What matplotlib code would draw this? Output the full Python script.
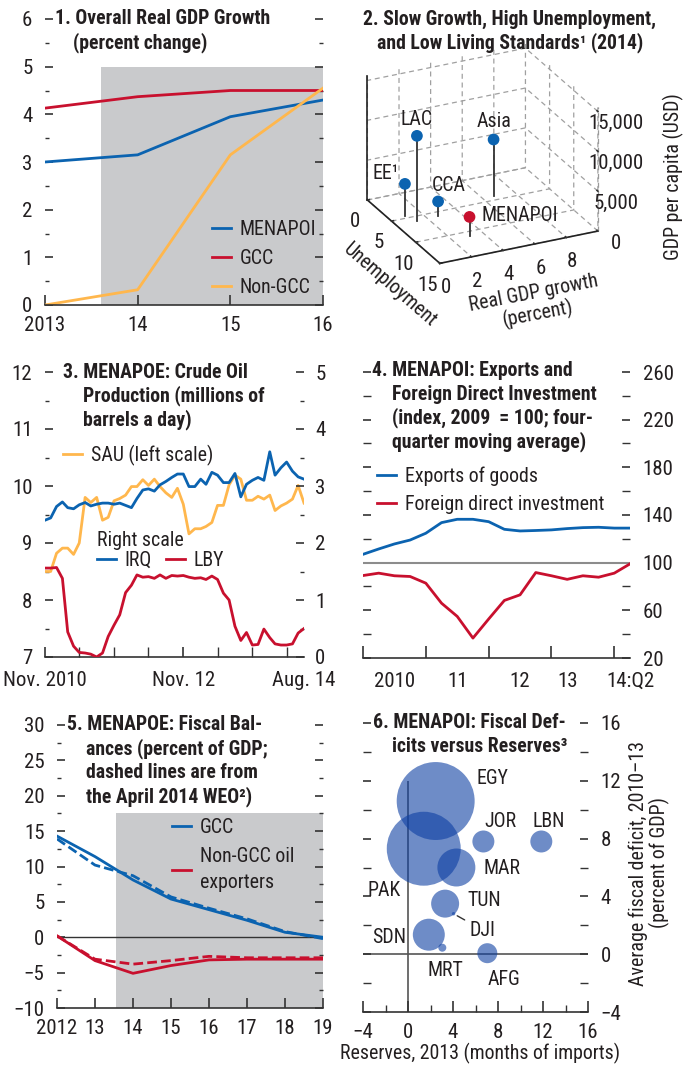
import numpy as np
import pandas as pd
import matplotlib
matplotlib.use('Agg')
import matplotlib.pyplot as plt
from matplotlib import font_manager as fm
from matplotlib.ticker import MultipleLocator, FixedLocator, NullFormatter, FuncFormatter
from mpl_toolkits.mplot3d import proj3d

# ---------------- data ----------------
# Panel 1: overall real GDP growth (percent change)
years1 = [2013, 2014, 2015, 2016]
gdp_menapoi = [3.0, 3.15, 3.95, 4.3]
gdp_gcc = [4.13, 4.37, 4.5, 4.5]
gdp_nongcc = [0.0, 0.32, 3.15, 4.55]
proj_start1 = 2013.6

# Panel 2: growth, unemployment, GDP per capita (2014)
regions2 = ['EE¹', 'LAC', 'CCA', 'Asia', 'MENAPOI']
growth2 = [1.0, 1.3, 2.7, 6.7, 3.1]
unemp2 = [4.5, 6.0, 5.8, 4.2, 11.0]
gdppc2 = [4000, 10700, 1800, 7100, 2450]

# Panel 3: crude oil production, monthly Nov 2010 - Aug 2014
sau = [8.50, 8.50, 8.82, 8.91, 8.91, 8.80, 9.00, 9.80, 9.71, 9.80,
       9.40, 9.45, 9.74, 9.78, 9.84, 9.99, 9.99, 10.11, 10.01, 10.12,
       9.99, 9.88, 9.80, 9.96, 9.68, 9.16, 9.25, 9.25, 9.29, 9.36,
       9.66, 9.66, 10.02, 10.19, 10.12, 9.75, 9.75, 9.82, 9.77, 9.84,
       9.57, 9.65, 9.70, 9.77, 10.01, 9.70]
irq = [2.40, 2.44, 2.64, 2.72, 2.62, 2.60, 2.67, 2.71, 2.65, 2.68,
       2.70, 2.70, 2.68, 2.70, 2.66, 2.62, 2.78, 2.93, 2.95, 2.91,
       3.02, 3.08, 3.15, 3.21, 3.21, 2.99, 2.99, 3.12, 3.03, 3.24,
       3.19, 3.06, 3.06, 3.22, 2.81, 3.03, 3.10, 3.15, 3.10, 3.60,
       3.19, 3.32, 3.42, 3.26, 3.16, 3.12]
lby = [1.56, 1.56, 1.57, 1.38, 0.44, 0.19, 0.08, 0.07, 0.05, 0.00,
       0.07, 0.36, 0.56, 0.74, 1.13, 1.26, 1.44, 1.40, 1.41, 1.38,
       1.44, 1.38, 1.43, 1.42, 1.43, 1.40, 1.38, 1.39, 1.36, 1.42,
       1.36, 1.12, 1.00, 0.54, 0.29, 0.43, 0.21, 0.22, 0.49, 0.34,
       0.23, 0.21, 0.21, 0.23, 0.42, 0.50]
months3 = pd.date_range('2010-11-01', periods=len(sau), freq='MS')

# Panel 4: exports and FDI (index, 2009 = 100), quarterly 2010Q1 - 2014Q2
quarters4 = pd.period_range('2010Q1', '2014Q2', freq='Q')
exports4 = [107, 111.5, 115.7, 119, 124.7, 133.6, 136.4, 136.4, 134.4, 128,
            126.6, 127, 127.5, 128.6, 129.4, 129.7, 129, 129]
fdi4 = [89.2, 91.2, 89, 88.4, 82.8, 66, 54.9, 36.7, 52.7, 68.3,
        73, 91.7, 89, 86, 89, 87.8, 91.2, 99]
xlabels4 = ['2010', '11', '12', '13', '14:Q2']

# Panel 5: fiscal balances (percent of GDP)
years5 = [2012, 2013, 2014, 2015, 2016, 2017, 2018, 2019]
gcc5 = [14.3, 11.4, 8.1, 5.4, 3.9, 2.4, 0.7, 0.0]
gcc5_weo = [13.9, 10.2, 8.7, 5.7, 4.1, 2.6, 0.8, -0.2]
ngo5 = [0.2, -3.3, -5.1, -4.0, -3.2, -3.1, -3.1, -3.1]
ngo5_weo = [0.2, -3.1, -3.8, -3.3, -2.7, -2.9, -2.9, -2.9]
proj_start5 = 2013.55

# Panel 6: fiscal deficits versus reserves
countries6 = ['EGY', 'PAK', 'MAR', 'JOR', 'LBN', 'TUN', 'DJI', 'SDN', 'MRT', 'AFG']
reserves6 = [2.46, 1.4, 4.3, 6.7, 11.85, 3.3, 4.05, 1.85, 3.05, 7.05]
deficit6 = [10.6, 7.3, 6.0, 7.8, 7.8, 3.5, 2.8, 1.35, 0.45, 0.07]
bubble6 = [1521, 1369, 361, 121, 121, 196, 3, 256, 16, 100]

# ---------------- fonts / style ----------------
names = {f.name for f in fm.fontManager.ttflist}
FONT = next((n for n in ['Liberation Sans Narrow', 'Roboto Condensed', 'Open Sans Condensed',
                         'Arial Narrow', 'Liberation Sans'] if n in names), 'DejaVu Sans')
FS = 15      # tick labels
LFS = 14.3   # legends / annotations / axis labels
TFS = 14.2   # bold titles
TXT = '#231f20'
BLUE = '#0b63b0'
RED = '#c8102e'
YEL = '#ffb74d'
SHADE = '#c9cacc'
LW = 2.0

plt.rcParams.update({
    'font.family': [FONT, 'DejaVu Sans'], 'font.size': LFS, 'text.color': TXT,
    'xtick.color': '#333333', 'ytick.color': '#333333',
    'xtick.labelcolor': TXT, 'ytick.labelcolor': TXT,
    'axes.linewidth': 1.2, 'axes.edgecolor': '#333333',
    'xtick.major.width': 1.2, 'ytick.major.width': 1.2,
    'xtick.minor.width': 1.0, 'ytick.minor.width': 1.0,
    'xtick.labelsize': FS, 'ytick.labelsize': FS,
    'legend.fontsize': LFS,
})

W, H = 693, 1065
fig = plt.figure(figsize=(W / 100, H / 100), dpi=100)


def rect(l, t, r, b):
    return [l / W, 1 - b / H, (r - l) / W, (b - t) / H]


def ftext(x, y, s, **kw):
    kw.setdefault('va', 'center')
    return fig.text(x / W, 1 - y / H, s, **kw)


def base(ax):
    ax.patch.set_alpha(0)
    for s in ('top', 'left', 'right'):
        ax.spines[s].set_visible(False)
    ax.tick_params(which='both', direction='in')
    ax.tick_params(which='major', length=6)
    ax.tick_params(which='minor', length=3)


def title(lines, x0, x1, y0, dy=24):
    for i, s in enumerate(lines):
        ftext(x0 if i == 0 else x1, y0 + i * dy, s, fontweight='bold', fontsize=TFS, ha='left')


def legend_at(ax, x, y, **kw):
    opts = dict(loc='upper left', bbox_to_anchor=(x / W, 1 - y / H), bbox_transform=fig.transFigure,
                frameon=False, handlelength=0.95, handletextpad=0.45, labelspacing=0.5,
                borderpad=0, borderaxespad=0)
    opts.update(kw)
    return ax.legend(**opts)


# ---------------- Panel 1 ----------------
ax1 = fig.add_axes(rect(45, 19, 323, 305))
base(ax1)
ax1.set_xlim(2013, 2016)
ax1.set_ylim(0, 6)
ax1.axvspan(proj_start1, 2016, ymax=5 / 6, color=SHADE, lw=0)
ax1.plot(years1, gdp_menapoi, color=BLUE, lw=LW, label='MENAPOI')
ax1.plot(years1, gdp_gcc, color=RED, lw=LW, label='GCC')
ax1.plot(years1, gdp_nongcc, color=YEL, lw=LW, label='Non-GCC')
ax1.yaxis.set_major_locator(MultipleLocator(1))
ax1.yaxis.set_minor_locator(MultipleLocator(0.5))
ax1.tick_params(axis='y', which='both', left=True, right=True, pad=9)
ax1.set_xticks(years1, ['2013', '14', '15', '16'])
ax1.tick_params(axis='x', length=7, pad=8)
legend_at(ax1, 212, 220)
title(['1. Overall Real GDP Growth', '(percent change)'], 55, 73, 19)

# ---------------- Panel 2 (3D) ----------------
ULIM, GLIM, ZLIM = (0, 15), (0, 10), (0, 15600)
ax2 = fig.add_axes(rect(344, 22, 614, 292), projection='3d', proj_type='ortho')
ax2.set_facecolor('none')
ax2.patch.set_alpha(0)
ax2.set_xlim(*ULIM)
ax2.set_ylim(*GLIM)
ax2.set_zlim(*ZLIM)
ax2.set_box_aspect((165, 174, 136))
ax2.view_init(elev=25, azim=-25.8)
ax2.set_xticks([0, 5, 10, 15])
ax2.set_yticks([0, 2, 4, 6, 8])
ax2.set_zticks([0, 5000, 10000, 15000])
ax2.zaxis.set_major_formatter(FuncFormatter(lambda v, p: f'{int(v):,}'))
for axis in (ax2.xaxis, ax2.yaxis, ax2.zaxis):
    axis.set_pane_color((1, 1, 1, 0))
    axis.pane.set_edgecolor('#9a9a9a')
    axis.pane.set_linestyle((0, (4, 3)))
    axis.pane.set_linewidth(0.9)
    axis._axinfo['grid'].update({'color': '#a0a0a0', 'linestyle': (0, (4, 3)), 'linewidth': 0.9})
    axis.line.set_color('#222222')
    axis.line.set_linewidth(1.2)
    axis._axinfo['tick']['inward_factor'] = 0.0
    axis._axinfo['tick']['outward_factor'] = 0.15
ax2.zaxis.line.set_color('#9a9a9a')
ax2.zaxis.line.set_linestyle((0, (4, 3)))
ax2.zaxis.line.set_linewidth(0.9)
# solid back-left vertical edge of the box
ax2.plot([ULIM[0], ULIM[0]], [GLIM[0], GLIM[0]], list(ZLIM), color='#222222', lw=1.2)
ax2.tick_params(labelsize=FS, pad=0)
colors2 = [BLUE, BLUE, BLUE, BLUE, RED]
for u, g, z in zip(unemp2, growth2, gdppc2):
    ax2.plot([u, u], [g, g], [0, z], color='#333333', lw=1.3)
ax2.scatter(unemp2, growth2, gdppc2, c=colors2, s=55, depthshade=False, alpha=1)
M = ax2.get_proj()
label_off2 = {'EE¹': (-6, 10, 'right'), 'LAC': (0, 16, 'center'), 'CCA': (-6, 16, 'left'),
              'Asia': (0, 18, 'center'), 'MENAPOI': (12, 1, 'left')}
for name, u, g, z in zip(regions2, unemp2, growth2, gdppc2):
    x2, y2, _ = proj3d.proj_transform(u, g, z, M)
    dx, dy, ha = label_off2[name]
    ax2.annotate(name, (x2, y2), xytext=(dx, dy), textcoords='offset pixels', ha=ha, va='center', fontsize=LFS)
ftext(510, 19, '2. Slow Growth, High Unemployment,', ha='center', fontweight='bold', fontsize=TFS)
ftext(510, 43, 'and Low Living Standards¹ (2014)', ha='center', fontweight='bold', fontsize=TFS)
ftext(390, 285, 'Unemployment', ha='center', rotation=-41, rotation_mode='anchor')
ftext(536, 304, 'Real GDP growth\n(percent)', ha='center', rotation=11, rotation_mode='anchor',
      multialignment='center', linespacing=1.1)
ftext(673, 177, 'GDP per capita (USD)', ha='center', rotation=90)

# ---------------- Panel 3 ----------------
ax3 = fig.add_axes(rect(45, 372, 304, 657))
base(ax3)
ax3.set_ylim(7, 12)
ax3.set_xlim(months3[0], months3[-1])
ax3.yaxis.set_major_locator(MultipleLocator(1))
ax3.yaxis.set_minor_locator(MultipleLocator(0.5))
ax3.tick_params(axis='y', which='both', left=True, right=False, pad=9)
ax3r = ax3.twinx()
base(ax3r)
ax3r.spines['bottom'].set_visible(False)
ax3r.set_ylim(0, 5)
ax3r.yaxis.set_major_locator(MultipleLocator(1))
ax3r.yaxis.set_minor_locator(MultipleLocator(0.5))
ax3r.tick_params(axis='y', which='both', left=False, right=True, labelright=True, labelleft=False, pad=8)
ax3.plot(months3, sau, color=YEL, lw=LW, label='SAU (left scale)')
ax3r.plot(months3, irq, color=BLUE, lw=LW, label='IRQ')
ax3r.plot(months3, lby, color=RED, lw=LW, label='LBY')
ax3.set_xticks([months3[0], months3[24], months3[-1]], ['Nov. 2010', 'Nov. 12', 'Aug. 14'])
ax3.set_xticks(months3[6:-1:6], minor=True)
ax3.tick_params(axis='x', which='both', length=7, pad=10)
ax3.xaxis.get_major_ticks()[2].tick1line.set_visible(False)
legend_at(ax3, 63, 445)
ftext(97, 540, 'Right scale', ha='left')
legend_at(ax3r, 97, 551, ncol=2, columnspacing=0.7)
title(['3. MENAPOE: Crude Oil', 'Production (millions of', 'barrels a day)'], 63, 83, 372)

# ---------------- Panel 4 ----------------
x4 = np.arange(len(quarters4))
ax4 = fig.add_axes(rect(363, 372, 630, 658))
base(ax4)
ax4.set_xlim(0, len(quarters4) - 1)
ax4.set_ylim(20, 260)
ax4.axhline(100, color='#8c8c8c', lw=1.5)
ax4.plot(x4, exports4, color=BLUE, lw=LW, label='Exports of goods')
ax4.plot(x4, fdi4, color=RED, lw=LW, label='Foreign direct investment')
ax4.yaxis.set_major_locator(FixedLocator(range(20, 261, 40)))
ax4.yaxis.set_minor_locator(FixedLocator(range(40, 260, 40)))
ax4.tick_params(axis='y', which='both', left=True, right=True, labelleft=False, labelright=True, pad=9)
ax4.tick_params(axis='y', which='minor', length=6)
q1 = [i for i, q in enumerate(quarters4) if q.quarter == 1]
ax4.set_xticks(q1, [''] * len(q1))
ax4.tick_params(axis='x', which='major', length=9)
ax4.set_xticks([2, 6, 10, 13, 17], xlabels4, minor=True)
ax4.tick_params(axis='x', which='minor', length=0, pad=10)
legend_at(ax4, 377, 466)
title(['4. MENAPOI: Exports and', 'Foreign Direct Investment', '(index, 2009  = 100; four-',
       'quarter moving average)'], 372, 392, 370)

# ---------------- Panel 5 ----------------
ax5 = fig.add_axes(rect(57, 725, 323, 1008))
base(ax5)
ax5.set_xlim(2012, 2019)
ax5.set_ylim(-10, 30)
ax5.axvspan(proj_start5, 2019, ymax=27.5 / 40, color=SHADE, lw=0)
ax5.axhline(0, color='#333333', lw=1.0)
ax5.plot(years5, gcc5, color=BLUE, lw=LW, label='GCC')
ax5.plot(years5, ngo5, color=RED, lw=LW, label='Non-GCC oil\nexporters')
ax5.plot(years5, gcc5_weo, color=BLUE, lw=LW, ls=(0, (3.5, 1.5)))
ax5.plot(years5, ngo5_weo, color=RED, lw=LW, ls=(0, (3.5, 1.5)))
ax5.yaxis.set_major_locator(MultipleLocator(5))
ax5.yaxis.set_minor_locator(MultipleLocator(2.5))
ax5.tick_params(axis='y', which='both', left=True, right=True, pad=9)
ax5.set_xticks(years5, ['2012', '13', '14', '15', '16', '17', '18', '19'])
ax5.tick_params(axis='x', length=7, pad=8)
leg5 = legend_at(ax5, 172, 818)
for t in leg5.get_texts():
    t.set_linespacing(1.45)
title(['5. MENAPOE: Fiscal Bal-', 'ances (percent of GDP;', 'dashed lines are from',
       'the April 2014 WEO²)'], 67, 86, 725)

# ---------------- Panel 6 ----------------
ax6 = fig.add_axes(rect(363, 723, 588, 1012))
base(ax6)
ax6.set_xlim(-4, 16)
ax6.set_ylim(-4, 16)
ax6.axhline(0, color='#555555', lw=1.2, zorder=1)
ax6.vlines(0, -4, 12, color='#555555', lw=1.2, zorder=1)
ax6.scatter(reserves6, deficit6, s=np.array(bubble6) * 2.07, color='#0d3fa3', alpha=0.6, lw=0, zorder=2)
ax6.xaxis.set_major_locator(MultipleLocator(4))
ax6.xaxis.set_minor_locator(MultipleLocator(2))
ax6.yaxis.set_major_locator(MultipleLocator(4))
ax6.yaxis.set_minor_locator(MultipleLocator(2))
ax6.tick_params(axis='y', which='both', left=True, right=True, labelleft=False, labelright=True, pad=9)
ax6.tick_params(axis='y', which='minor', length=6)
ax6.tick_params(axis='x', which='major', length=8, pad=8)
ax6.tick_params(axis='x', which='minor', length=5)
lab6 = {'EGY': (6.1, 12.15), 'JOR': (6.76, 9.17), 'LBN': (11.1, 9.17), 'MAR': (6.67, 5.9),
        'PAK': (-3.64, 4.44), 'TUN': (5.24, 3.75), 'SDN': (-3.2, 1.18), 'MRT': (1.69, -1.11),
        'AFG': (7.1, -1.74)}
for c, (lx, ly) in lab6.items():
    ax6.text(lx, ly, c, ha='left', va='center', fontsize=LFS)
i_dji = countries6.index('DJI')
ax6.annotate('DJI', (reserves6[i_dji], deficit6[i_dji]), xytext=(5.5, 1.67), textcoords='data',
             ha='left', va='center', fontsize=LFS,
             arrowprops=dict(arrowstyle='-', color='#333333', lw=1.0, shrinkA=2, shrinkB=3))
title(['6. MENAPOI: Fiscal Def-', 'icits versus Reserves³'], 373, 392, 723)
ftext(649, 863, 'Average fiscal deficit, 2010–13\n(percent of GDP)', ha='center', rotation=90,
      multialignment='center', linespacing=1.05)
ftext(480, 1053, 'Reserves, 2013 (months of imports)', ha='center')

fig.savefig('out.png', dpi=100)
